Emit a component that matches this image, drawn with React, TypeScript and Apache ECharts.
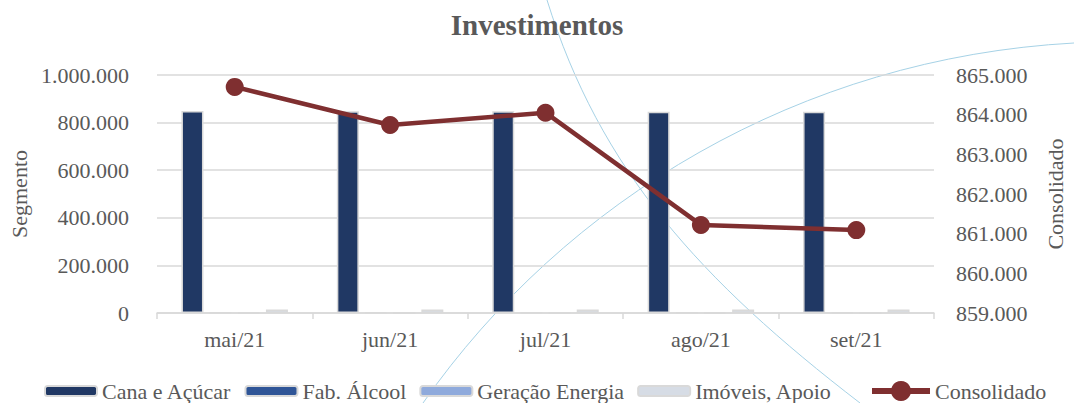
import React, { useEffect, useRef } from "react";
import * as echarts from "echarts";

const categories = ["mai/21", "jun/21", "jul/21", "ago/21", "set/21"];
const canaAcucar = [848700, 847740, 848050, 845220, 845090];
const fabAlcool = [1500, 1500, 1500, 1500, 1500];
const geracaoEnergia = [0, 0, 0, 0, 0];
const imoveisApoio = [14500, 14500, 14500, 14500, 14500];
const consolidado = [864700, 863740, 864050, 861220, 861090];
const barNames = ["Cana e Açúcar", "Fab. Álcool", "Geração Energia", "Imóveis, Apoio"];
const lineName = "Consolidado";

const FONT = "'Liberation Serif', 'Times New Roman', serif";
const TXT = "#595959";
const GRID = "#D9D9D9";

const fmt = (v: number) => String(Math.round(v)).replace(/\B(?=(\d{3})+(?!\d))/g, ".");

export default function App() {
  const ref = useRef<HTMLDivElement>(null);
  useEffect(() => {
    document.body.style.margin = "0";
    const chart = echarts.init(ref.current!, undefined, { renderer: "svg" });
    const barBase = {
      type: "bar" as const,
      barWidth: 22,
      barGap: "28%",
      yAxisIndex: 0,
    };
    const border = { borderColor: GRID, borderWidth: 1.5 };
    const legendText = { fontFamily: FONT, fontSize: 22, color: TXT };
    chart.setOption({
      animation: false,
      backgroundColor: "#ffffff",
      textStyle: { fontFamily: FONT, color: TXT },
      title: {
        text: "Investimentos",
        left: "center",
        top: 5,
        textStyle: { fontFamily: FONT, fontSize: 29, fontWeight: "bold", color: TXT },
      },
      graphic: [
        {
          type: "bezierCurve",
          z: 0,
          silent: true,
          shape: { x1: 547, y1: 0, cpx1: 600, cpy1: 170, cpx2: 700, cpy2: 280, x2: 860, y2: 403 },
          style: { stroke: "#A6D2E6", lineWidth: 1, fill: "none" },
        },
        {
          type: "bezierCurve",
          z: 0,
          silent: true,
          shape: { x1: 423, y1: 403, cpx1: 565, cpx2: 800, cpy1: 200, cpy2: 58, x2: 1074, y2: 43 },
          style: { stroke: "#A6D2E6", lineWidth: 1, fill: "none" },
        },
      ],
      legend: [
        {
          left: 44,
          top: 380,
          padding: 0,
          itemWidth: 52,
          itemHeight: 10,
          itemGap: 13,
          textStyle: legendText,
          data: barNames,
        },
        {
          left: 869,
          top: 380,
          padding: 0,
          itemWidth: 58,
          itemHeight: 25,
          itemGap: 10,
          textStyle: legendText,
          lineStyle: { width: 6 },
          data: [lineName],
        },
      ],
      grid: { left: 157, right: 134, top: 75, bottom: 90 },
      xAxis: {
        type: "category",
        data: categories,
        axisLine: { lineStyle: { color: GRID, width: 1.5 } },
        axisTick: { show: true, length: 6, lineStyle: { color: GRID, width: 1.5 } },
        axisLabel: { fontFamily: FONT, fontSize: 22, color: TXT, margin: 15 },
      },
      yAxis: [
        {
          type: "value",
          min: 0,
          max: 1000000,
          interval: 200000,
          name: "Segmento",
          nameLocation: "middle",
          nameRotate: 90,
          nameGap: 126,
          nameTextStyle: { fontFamily: FONT, fontSize: 22, color: TXT },
          axisLine: { show: false },
          axisTick: { show: false },
          splitLine: { lineStyle: { color: GRID, width: 1.5 } },
          axisLabel: { fontFamily: FONT, fontSize: 22, color: TXT, margin: 28, formatter: fmt },
        },
        {
          type: "value",
          position: "right",
          min: 859000,
          max: 865000,
          interval: 1000,
          name: lineName,
          nameLocation: "middle",
          nameRotate: 90,
          nameGap: 110,
          nameTextStyle: { fontFamily: FONT, fontSize: 22, color: TXT },
          axisLine: { show: false },
          axisTick: { show: false },
          splitLine: { show: false },
          axisLabel: { fontFamily: FONT, fontSize: 22, color: TXT, margin: 22, formatter: fmt },
        },
      ],
      series: [
        { ...barBase, name: barNames[0], data: canaAcucar, itemStyle: { color: "#203864", ...border } },
        { ...barBase, name: barNames[1], data: fabAlcool, itemStyle: { color: "#2F5597", ...border } },
        { ...barBase, name: barNames[2], data: geracaoEnergia, itemStyle: { color: "#8FAADC", ...border } },
        { ...barBase, name: barNames[3], data: imoveisApoio, itemStyle: { color: "#D6DCE5", ...border } },
        {
          type: "line",
          name: lineName,
          yAxisIndex: 1,
          data: consolidado,
          symbol: "circle",
          symbolSize: 18,
          lineStyle: { color: "#7F2F30", width: 4.5 },
          itemStyle: { color: "#7F2F30" },
          z: 5,
        },
      ],
    });
    return () => chart.dispose();
  }, []);
  return <div ref={ref} style={{ width: 1074, height: 403 }} />;
}
